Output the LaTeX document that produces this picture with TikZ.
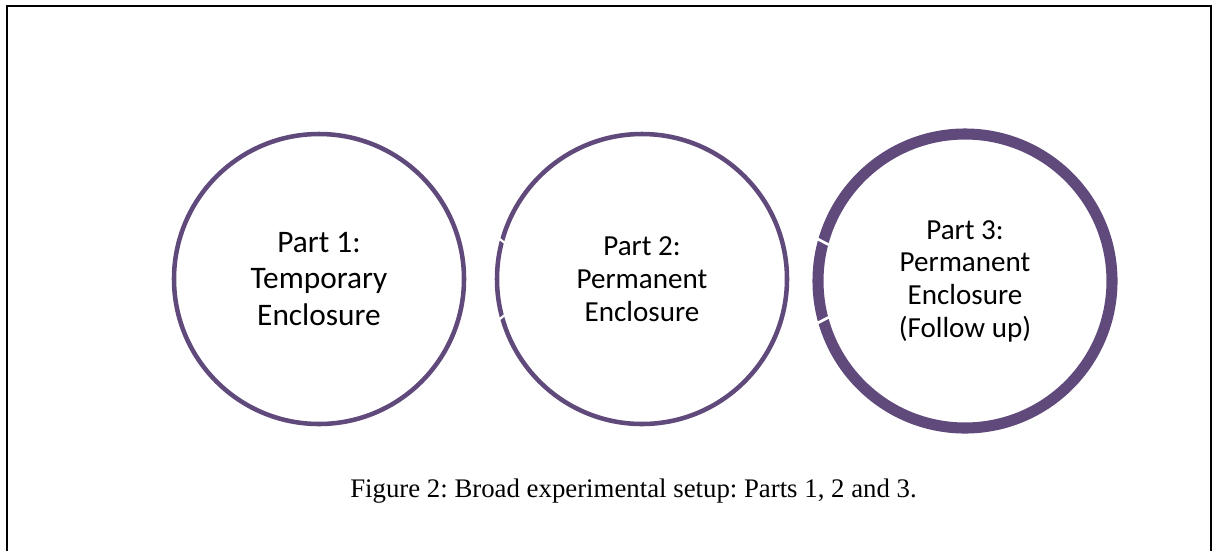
\documentclass[tikz,border=0pt]{standalone}
\usepackage{fontspec}
\setmainfont{Liberation Serif}
\newfontfamily\calfont{Carlito}
\usetikzlibrary{calc}
\definecolor{ringpurple}{HTML}{604A7B}
\tikzset{
  ring/.style={circle, draw=ringpurple, line width=3.4pt, minimum size=217.5pt, inner sep=0pt, align=center, text=black},
  thickring/.style={ring, line width=8.3pt, minimum size=220.5pt},
  bigtext/.style={font=\calfont\fontsize{23.5pt}{27.5pt}\selectfont},
  smalltext/.style={font=\calfont\fontsize{21.8pt}{24.5pt}\selectfont},
  notch/.style={draw=white, line width=1.6pt},
  frame/.style={draw=black, line width=1.5pt}
}
\begin{document}
\frenchspacing
\begin{tikzpicture}[x=0.75pt,y=-0.75pt]
\useasboundingbox (0,0) rectangle (1214,551);
\draw[frame] (7,551) -- (7,6) -- (1211,6) -- (1211,551);
\node[ring, bigtext] (c1) at (319,279) {Part 1:\\Temporary\\Enclosure};
\node[ring, smalltext] (c2) at (642,279) {Part 2:\\Permanent\\Enclosure};
\node[thickring, smalltext] (c3) at (965,281) {Part 3:\\Permanent\\Enclosure\\(Follow up)};
% white notches on the left of circles 2 and 3
\draw[notch] ($(c2.center)+(-150,-46)$) -- ($(c2.center)+(-132,-32)$);
\draw[notch] ($(c2.center)+(-150,46)$) -- ($(c2.center)+(-132,32)$);
\draw[notch, line width=2pt] ($(c3.center)+(-155,-46)$) -- ($(c3.center)+(-130,-33)$);
\draw[notch, line width=2pt] ($(c3.center)+(-155,46)$) -- ($(c3.center)+(-130,33)$);
\node[anchor=base, font=\fontsize{20.1pt}{23pt}\selectfont, inner sep=0pt] (cap) at (633.5,497) {Figure 2: Broad experimental setup: Parts 1, 2 and 3.};
\end{tikzpicture}
\end{document}
